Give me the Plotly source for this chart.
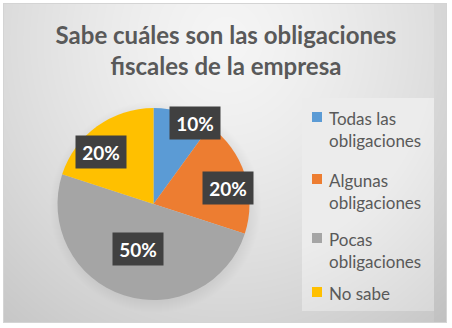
import base64
import struct
import zlib

import numpy as np
import plotly.graph_objects as go

# ---------------- data ----------------
categories = ["Todas las obligaciones", "Algunas obligaciones", "Pocas obligaciones", "No sabe"]
legend_labels = ["Todas las<br>obligaciones", "Algunas<br>obligaciones", "Pocas<br>obligaciones", "No sabe"]
values = [10, 20, 50, 20]
title_text = "Sabe cuáles son las obligaciones<br>fiscales de la empresa"

# ---------------- style ----------------
colors = ["#5B9BD5", "#ED7D31", "#A5A5A5", "#FFC000"]
W, H = 452, 328
FONT = "Lato"
TEXT_COL = "#595959"

# pie geometry (pixels)
PIE_CX, PIE_CY, PIE_R = 153.5, 204.0, 96.0

# label placement style: radial fraction + small pixel nudges (x right, y down)
label_rfrac = [0.86, 0.80, 0.52, 0.76]
label_nudge = [(16, -2), (1.5, 8), (0, -2.5), (-10, 7.5)]

# legend layout (pixels)
LEG_SQ_X0, LEG_SQ_SIZE = 312, 10
LEG_TEXT_X = 327
LEG_FIRST_LINE_Y = [117, 179, 238, 292]
LEG_FONT = 17
LEG_LINE = LEG_FONT * 1.3


def px_x(x):
    return x / W


def px_y(y):
    return 1 - y / H


# ---------------- background image (gradient card) ----------------
def make_background():
    yy, xx = np.mgrid[0:H, 0:W].astype(float)
    nx = (xx - 226) / 300.0
    ny = (yy - 40) / 320.0
    t = np.clip(np.sqrt(nx ** 2 + ny ** 2), 0, 1.2)
    val = 245 - 38 * t ** 1.4
    # legend panel, slightly lighter
    leg = (xx >= 302) & (xx <= 433) & (yy >= 98) & (yy <= 310)
    val = np.where(leg, np.minimum(val + 14, 236), val)
    # soft pie shadow
    d = np.sqrt((xx - PIE_CX - 1.5) ** 2 + (yy - PIE_CY - 2.5) ** 2)
    s = np.clip((PIE_R + 10 - d) / 12.0, 0, 1)
    val = val - 14 * s
    # right darker strip
    strip = (xx >= 434) & (xx <= 446)
    val = np.where(strip, val - 6, val)
    inside = (xx >= 3) & (xx <= 446) & (yy >= 3) & (yy <= 322)
    border = inside & ((xx < 4) | (xx > 445) | (yy < 4) | (yy > 321))
    val = np.where(border, 212, val)
    val = np.where(inside, val, 255)
    img = np.clip(val, 0, 255).astype(np.uint8)
    rgb = np.stack([img, img, img], axis=2)
    raw = b"".join(b"\x00" + rgb[r].tobytes() for r in range(H))

    def chunk(tag, data):
        return (struct.pack(">I", len(data)) + tag + data
                + struct.pack(">I", zlib.crc32(tag + data) & 0xFFFFFFFF))

    png = (b"\x89PNG\r\n\x1a\n"
           + chunk(b"IHDR", struct.pack(">IIBBBBB", W, H, 8, 2, 0, 0, 0))
           + chunk(b"IDAT", zlib.compress(raw, 9))
           + chunk(b"IEND", b""))
    return "data:image/png;base64," + base64.b64encode(png).decode()


fig = go.Figure()

fig.add_trace(go.Pie(
    labels=categories,
    values=values,
    marker=dict(colors=colors, line=dict(width=0)),
    sort=False,
    direction="clockwise",
    rotation=0,
    textinfo="none",
    hoverinfo="label+percent",
    showlegend=False,
    domain=dict(
        x=[px_x(PIE_CX - PIE_R), px_x(PIE_CX + PIE_R)],
        y=[px_y(PIE_CY + PIE_R), px_y(PIE_CY - PIE_R)],
    ),
))

annotations = []
shapes = []

# data labels computed from the values
total = float(sum(values))
cum = 0.0
for i, v in enumerate(values):
    mid = (cum + v / 2.0) / total
    cum += v
    ang = 2 * np.pi * mid
    r = label_rfrac[i] * PIE_R
    lx = PIE_CX + r * np.sin(ang) + label_nudge[i][0]
    ly = PIE_CY - r * np.cos(ang) + label_nudge[i][1]
    pct = round(100 * v / total)
    annotations.append(dict(
        x=px_x(lx), y=px_y(ly), xref="paper", yref="paper",
        text=f"{pct}%", showarrow=False,
        font=dict(family=FONT, size=19, color="white", weight="bold"),
        bgcolor="#404040", borderpad=4, width=42, height=24,
        xanchor="center", yanchor="middle",
    ))

# legend (manual, to mirror the card layout)
for i, lab in enumerate(legend_labels):
    y0 = LEG_FIRST_LINE_Y[i]
    nlines = lab.count("<br>") + 1
    shapes.append(dict(
        type="rect", xref="paper", yref="paper",
        x0=px_x(LEG_SQ_X0), x1=px_x(LEG_SQ_X0 + LEG_SQ_SIZE),
        y0=px_y(y0 + LEG_SQ_SIZE / 2), y1=px_y(y0 - LEG_SQ_SIZE / 2),
        fillcolor=colors[i], line=dict(width=0),
    ))
    yc = y0 + (nlines - 1) * LEG_LINE / 2.0
    annotations.append(dict(
        x=px_x(LEG_TEXT_X), y=px_y(yc + 1), xref="paper", yref="paper",
        text=lab, showarrow=False, align="left",
        xanchor="left", yanchor="middle",
        font=dict(family=FONT, size=LEG_FONT, color=TEXT_COL),
    ))

fig.update_layout(
    width=W, height=H,
    margin=dict(l=0, r=0, t=0, b=0),
    paper_bgcolor="white",
    plot_bgcolor="rgba(0,0,0,0)",
    title=dict(
        text=title_text, x=0.5, xanchor="center",
        y=px_y(44), yanchor="middle",
        font=dict(family=FONT, size=24, color=TEXT_COL, weight="bold"),
    ),
    images=[dict(
        source=make_background(), xref="paper", yref="paper",
        x=0, y=1, sizex=1, sizey=1, xanchor="left", yanchor="top",
        sizing="stretch", layer="below",
    )],
    annotations=annotations,
    shapes=shapes,
)

fig.write_html(
    "out.html",
    config={"displayModeBar": False},
    post_script="document.body.style.margin='0';document.body.style.padding='0';",
)
